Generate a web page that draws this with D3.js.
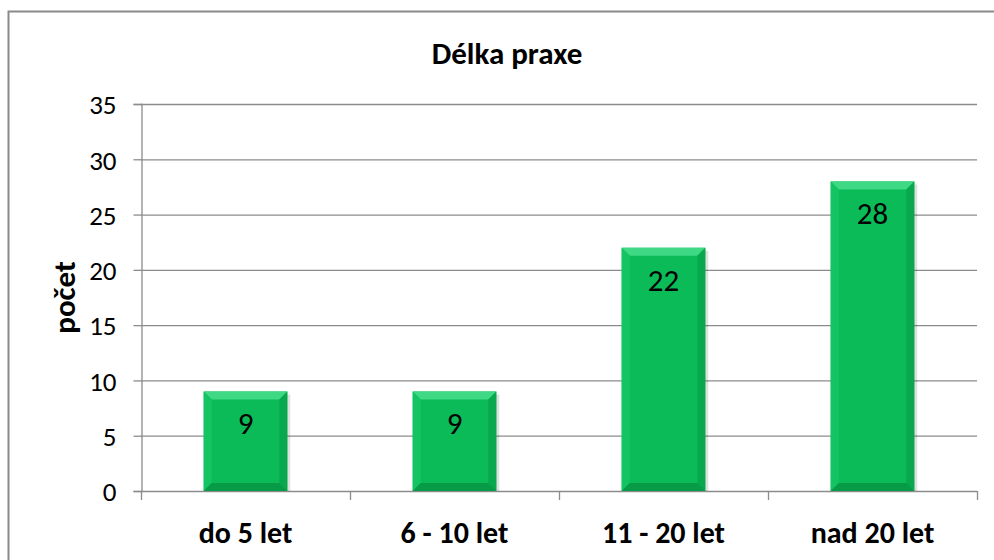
<!DOCTYPE html>
<html>
<head>
<meta charset="utf-8">
<script src="https://cdn.jsdelivr.net/npm/d3@7"></script>
<style>
  body { margin: 0; background: #fff; }
  svg text { font-family: Carlito, Calibri, Lato, "Open Sans", sans-serif; fill: #000; }
</style>
</head>
<body>
<svg id="chart" width="994" height="560"></svg>
<script>
// chart data
const categories = ["do 5 let", "6 - 10 let", "11 - 20 let", "nad 20 let"];
const counts = [9, 9, 22, 28];
const yTicks = [0, 5, 10, 15, 20, 25, 30, 35];
const title = "Délka praxe";
const yLabel = "počet";

const svg = d3.select("#chart");
const plot = { left: 141, right: 977, top: 104, bottom: 491 };

// outer chart border (runs off the right / bottom edge like the original)
svg.append("rect")
    .attr("x", 8.5).attr("y", 11.5)
    .attr("width", 998).attr("height", 560)
    .attr("fill", "none")
    .attr("stroke", "#8a8a8a")
    .attr("stroke-width", 2);

const x = d3.scaleBand()
    .domain(categories)
    .range([plot.left, plot.right])
    .paddingInner(0.6)
    .paddingOuter(0.3);

const y = d3.scaleLinear()
    .domain([0, 35])
    .range([plot.bottom, plot.top]);

// gridlines
svg.append("g")
    .selectAll("line")
    .data(yTicks.filter(d => d > 0))
    .join("line")
    .attr("x1", plot.left).attr("x2", plot.right)
    .attr("y1", d => y(d) + 0.5).attr("y2", d => y(d) + 0.5)
    .attr("stroke", "#8c8c8c")
    .attr("stroke-width", 1.3);

// y axis
const yAxis = svg.append("g")
    .attr("transform", `translate(${plot.left + 0.5},0)`)
    .call(d3.axisLeft(y).tickValues(yTicks).tickSize(8).tickPadding(17));
yAxis.select(".domain").attr("stroke", "#8c8c8c").attr("stroke-width", 1.3);
yAxis.selectAll(".tick line").attr("stroke", "#8c8c8c").attr("stroke-width", 1.3);
yAxis.selectAll(".tick text")
    .style("font-size", "27px")
    .attr("dy", "0.36em");

// x axis: ticks sit on category boundaries
const bounds = d3.range(categories.length + 1).map(i => plot.left + i * x.step());
svg.append("line")
    .attr("x1", plot.left).attr("x2", plot.right)
    .attr("y1", plot.bottom + 0.5).attr("y2", plot.bottom + 0.5)
    .attr("stroke", "#8c8c8c").attr("stroke-width", 1.3);
svg.append("g")
    .selectAll("line")
    .data(bounds)
    .join("line")
    .attr("x1", d => d + 0.5).attr("x2", d => d + 0.5)
    .attr("y1", plot.bottom).attr("y2", plot.bottom + 9)
    .attr("stroke", "#8c8c8c").attr("stroke-width", 1.3);

svg.append("g")
    .selectAll("text")
    .data(categories)
    .join("text")
    .attr("x", d => x(d) + x.bandwidth() / 2)
    .attr("y", 543)
    .attr("text-anchor", "middle")
    .style("font-size", "30px")
    .style("font-weight", "bold")
    .text(d => d);

// bars with bevel
const bev = 8;
const bars = svg.append("g")
    .selectAll("g")
    .data(categories.map((c, i) => ({ c, v: counts[i] })))
    .join("g");

// soft shadow
bars.append("rect")
    .attr("x", d => x(d.c) + 3)
    .attr("y", d => y(d.v) + 3)
    .attr("width", x.bandwidth())
    .attr("height", d => y(0) - y(d.v) - 3)
    .attr("fill", "#000")
    .attr("opacity", 0.12);

bars.append("rect")
    .attr("x", d => x(d.c))
    .attr("y", d => y(d.v))
    .attr("width", x.bandwidth())
    .attr("height", d => y(0) - y(d.v))
    .attr("fill", "#0bbb58");

function bevel(d, side) {
    const x0 = x(d.c), x1 = x0 + x.bandwidth();
    const y0 = y(d.v), y1 = y(0);
    if (side === "top") return [[x0, y0], [x1, y0], [x1 - bev, y0 + bev], [x0 + bev, y0 + bev]];
    if (side === "left") return [[x0, y0], [x0 + bev, y0 + bev], [x0 + bev, y1 - bev], [x0, y1]];
    if (side === "right") return [[x1, y0], [x1 - bev, y0 + bev], [x1 - bev, y1 - bev], [x1, y1]];
    return [[x0, y1], [x0 + bev, y1 - bev], [x1 - bev, y1 - bev], [x1, y1]];
}
const bevelFill = { top: "#3fd884", left: "#13c463", right: "#09a84e", bottom: "#079a47" };
["top", "left", "right", "bottom"].forEach(side => {
    bars.append("polygon")
        .attr("points", d => bevel(d, side).join(" "))
        .attr("fill", bevelFill[side]);
});

// value labels inside the bar tops
bars.append("text")
    .attr("x", d => x(d.c) + x.bandwidth() / 2)
    .attr("y", d => y(d.v) + 43)
    .attr("text-anchor", "middle")
    .style("font-size", "31px")
    .text(d => d.v);

// title
svg.append("text")
    .attr("x", 507).attr("y", 64)
    .attr("text-anchor", "middle")
    .style("font-size", "31px")
    .style("font-weight", "bold")
    .text(title);

// y axis label
svg.append("text")
    .attr("transform", `translate(75,${(plot.top + plot.bottom) / 2}) rotate(-90)`)
    .attr("text-anchor", "middle")
    .style("font-size", "31px")
    .style("font-weight", "bold")
    .text(yLabel);
</script>
</body>
</html>
